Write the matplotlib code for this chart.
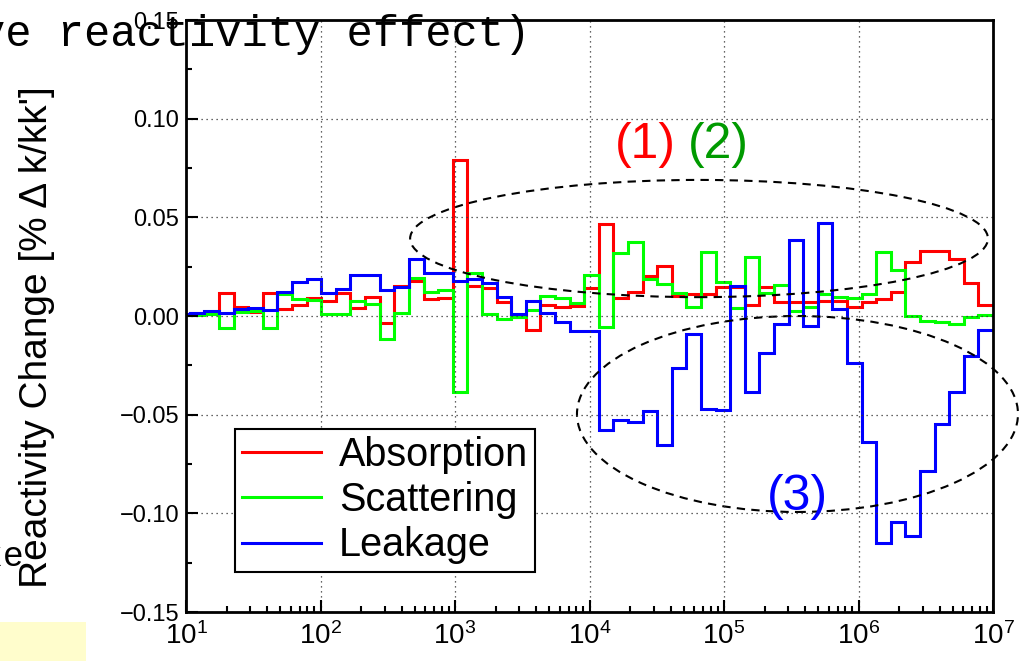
"""Reactivity change by energy group: absorption / scattering / leakage."""

import numpy as np
import matplotlib
matplotlib.use('Agg')
import matplotlib.pyplot as plt
from matplotlib.patches import Ellipse, Rectangle
from matplotlib.ticker import LogLocator, MultipleLocator, NullFormatter

plt.rcParams['font.family'] = ['Liberation Sans', 'DejaVu Sans']
plt.rcParams['mathtext.fontset'] = 'custom'
plt.rcParams['mathtext.rm'] = 'Liberation Sans'

# 70-group style structure, lethargy width 0.25 from 10 MeV downwards
# (only the groups above ~8 eV are shown)
top_energy = 1e7
lethargy_width = 0.25
n_groups = 56

# values per group, group 1 = highest energy
absorption = [
    0.0056, 0.0166, 0.0287, 0.0331, 0.0331, 0.0272, 0.0120, 0.0085, 0.0071, 0.0047,
    0.0076, 0.0076, 0.0069, 0.0069, 0.0069, 0.0145, 0.0056, 0.0145, 0.0145, 0.0111,
    0.0111, 0.0103, 0.0253, 0.0204, 0.0120, 0.0090, 0.0465, 0.0144, 0.0050, 0.0047,
    0.0056, -0.0071, -0.0003, 0.0069, 0.0140, 0.0152, 0.0790, 0.0090, 0.0086, 0.0177,
    0.0154, -0.0037, 0.0098, 0.0042, 0.0118, 0.0077, 0.0090, 0.0058, 0.0034, 0.0118,
    0.0018, 0.0044, 0.0118, 0.0020, 0.0015, 0.0010,
]
scattering = [
    0.0007, -0.0007, -0.0040, -0.0029, -0.0025, 0.0000, 0.0233, 0.0323, 0.0110, 0.0090,
    0.0095, 0.0111, 0.0047, 0.0027, 0.0157, 0.0115, 0.0297, 0.0039, 0.0174, 0.0326,
    0.0047, 0.0118, 0.0162, 0.0188, 0.0373, 0.0318, -0.0055, 0.0208, 0.0068, 0.0093,
    0.0100, 0.0030, -0.0003, -0.0017, 0.0012, 0.0216, -0.0384, 0.0133, 0.0123, 0.0194,
    0.0014, -0.0117, 0.0061, 0.0076, 0.0010, 0.0008, 0.0081, 0.0085, 0.0111, -0.0059,
    0.0027, 0.0022, -0.0059, 0.0010, 0.0005, 0.0005,
]
leakage = [
    -0.0071, -0.0201, -0.0385, -0.0549, -0.0786, -0.1113, -0.1046, -0.1152, -0.0640, -0.0237,
    0.0035, 0.0473, -0.0049, 0.0385, -0.0040, -0.0186, -0.0387, 0.0152, -0.0476, -0.0471,
    -0.0091, -0.0265, -0.0654, -0.0481, -0.0536, -0.0527, -0.0578, -0.0076, -0.0076, -0.0029,
    0.0017, 0.0075, 0.0009, 0.0098, 0.0169, 0.0186, 0.0180, 0.0220, 0.0220, 0.0287,
    0.0149, 0.0132, 0.0208, 0.0208, 0.0135, 0.0115, 0.0186, 0.0171, 0.0123, 0.0030,
    0.0042, 0.0037, 0.0014, 0.0025, 0.0017, 0.0010,
]

labels = ['Absorption', 'Scattering', 'Leakage']
colors = ['#ff0000', '#00ff00', '#0000ff']

edges = top_energy * np.exp(-lethargy_width * np.arange(n_groups + 1))

fig = plt.figure(figsize=(10.21, 6.61), dpi=100)
ax = fig.add_axes([0.1822, 0.0741, 0.7904, 0.8956])

for vals, lab, col in zip([absorption, scattering, leakage], labels, colors):
    ax.stairs(np.array(vals)[::-1], edges[::-1], baseline=None,
              color=col, lw=2.2, label=lab)

ax.set_xscale('log')
ax.set_xlim(10, 1e7)
ax.set_ylim(-0.15, 0.15)
ax.yaxis.set_major_locator(MultipleLocator(0.05))
ax.yaxis.set_minor_locator(MultipleLocator(0.025))
ax.yaxis.set_major_formatter(lambda v, p: f'{v:.2f}'.replace('-', '\u2212'))
ax.xaxis.set_major_locator(LogLocator(base=10, numticks=10))
ax.xaxis.set_minor_locator(LogLocator(base=10, subs=np.arange(2, 10), numticks=20))
ax.xaxis.set_minor_formatter(NullFormatter())

ax.grid(True, which='major', color='#333333', ls=(0, (1, 3)), lw=0.9)
ax.tick_params(which='both', direction='in', width=1.5, top=False, right=False)
ax.tick_params(which='major', length=8.5)
ax.tick_params(which='minor', length=4.5)
ax.tick_params(axis='y', pad=5, labelsize=17)
ax.tick_params(axis='x', pad=7, labelsize=20)
for sp in ax.spines.values():
    sp.set_linewidth(2)

leg = ax.legend(loc='upper left', bbox_to_anchor=(0.0607, 0.309), borderaxespad=0,
                fontsize=28.5, fancybox=False, edgecolor='k', framealpha=1,
                handlelength=2.0, handletextpad=0.45, labelspacing=0.18,
                borderpad=0.18)
leg.get_frame().set_linewidth(1.5)

# dashed ellipses marking the regions
ax.add_patch(Ellipse((0.6357, 0.6309), 0.716, 0.198, transform=ax.transAxes,
                     fill=False, ec='k', lw=1.5, ls=(0, (4, 3)), clip_on=False))
ax.add_patch(Ellipse((0.7577, 0.3345), 0.5465, 0.331, transform=ax.transAxes,
                     fill=False, ec='k', lw=1.5, ls=(0, (4, 3)), clip_on=False))

ax.text(0.5688, 0.7889, '(1)', color='#ff0000', fontsize=36, ha='center', va='center',
        transform=ax.transAxes)
ax.text(0.6592, 0.7889, '(2)', color='#009a00', fontsize=36, ha='center', va='center',
        transform=ax.transAxes)
ax.text(0.7571, 0.1943, '(3)', color='#0000ff', fontsize=36, ha='center', va='center',
        transform=ax.transAxes)

fig.text(37 / 1021, 0.49, "Reactivity Change [% \u0394 k/kk']", rotation=90,
         ha='center', va='center', fontsize=28)

# leftovers of the page the chart was cut from
fig.text(-21 / 1021, 1 - 46 / 661, 've reactivity effect)', family='Liberation Mono',
         fontsize=31.5, ha='left', va='baseline')
fig.text(24 / 1021, 1 - 566 / 661, 'ke', family='Liberation Mono', fontsize=25,
         ha='right', va='baseline')
fig.add_artist(Rectangle((0, 0), 86 / 1021, 39 / 661, transform=fig.transFigure,
                         color='#fffdcc', lw=0))

fig.savefig('out.png', dpi=100)
